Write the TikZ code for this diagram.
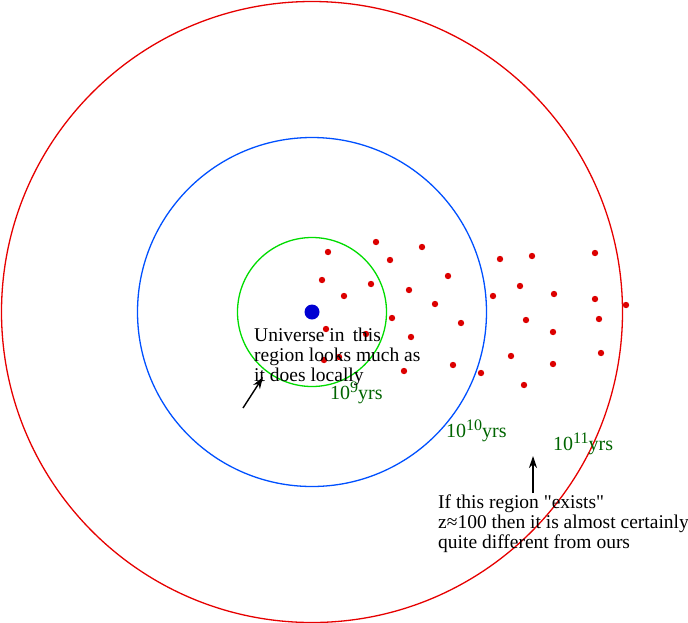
\documentclass[tikz,border=0pt]{standalone}
\usepackage{fontspec}
\setmainfont{Liberation Serif}
\usetikzlibrary{arrows.meta, positioning}

\definecolor{ringred}{RGB}{230,0,0}
\definecolor{ringblue}{RGB}{0,80,255}
\definecolor{ringgreen}{RGB}{0,220,0}
\definecolor{dotred}{RGB}{220,0,0}
\definecolor{selfblue}{RGB}{0,0,210}
\definecolor{labelgreen}{RGB}{0,100,0}

\newcommand{\agepow}[1]{10\raisebox{6.5pt}{\fontsize{16}{16}\selectfont #1}yrs}

\tikzset{
  ring/.style={line width=1.3pt},
  galaxy/.style={fill=dotred},
  agelabel/.style={text=labelgreen, anchor=base west, inner sep=0pt, font=\fontsize{20}{20}\selectfont},
  note/.style={anchor=base west, inner sep=0pt, align=left, font=\fontsize{19.5}{20}\selectfont},
  pointer/.style={line width=1.4pt, -{Stealth[length=12pt,width=8pt]}}
}

\begin{document}
\begin{tikzpicture}[x=1pt, y=-1pt]
                \useasboundingbox (0,0) rectangle (688,622);

                % Draw the three horizons round us
                \draw[ring, ringred] (312,312) circle [radius=310.5pt];
                \draw[ring, ringblue] (312,312) circle [radius=174.5pt];
                \draw[ring, ringgreen] (312,312) circle [radius=74.5pt];

                % Galaxies
                \foreach \x/\y in {328/252, 376/242, 422/247, 390/260, 322/280, 371/284,
                                   344/296, 409/290, 448/276, 435/304, 392/318, 461/323,
                                   326/329, 366/334, 411/337, 339/357, 324/360, 404/371,
                                   453/365, 481/373, 500/259, 532/256, 595/253, 520/286,
                                   554/294, 493/296, 595/299, 626/305, 526/320, 599/319,
                                   553/332, 511/356, 601/353, 553/364, 524/385}
                    \fill[galaxy] (\x,\y) circle [radius=3.2pt];

                % Us
                \fill[selfblue] (312,312) circle [radius=7.5pt];

                % Labels
                \node[agelabel] (age9) at (330,399) {\agepow{9}};
                \node[agelabel] (age10) at (446,437) {\agepow{10}};
                \node[agelabel] (age11) at (553,450) {\agepow{11}};

                \node[note] (local) at (254,381) {Universe in\, this\\region looks much as\\it does locally};
                \node[note] (far) at (438,548) {If this region \textquotedbl exists\textquotedbl\\z≈100 then it is almost certainly\\quite different from ours};

                % Arrows
                \coordinate (localtail) at (243,408);
                \coordinate (localtip) at (263,377);
                \coordinate (fartail) at (533,493);
                \coordinate (fartip) at (533,456);
                \draw[pointer] (localtail) -- (localtip);
                \draw[pointer] (fartail) -- (fartip);
            \end{tikzpicture}
\end{document}
